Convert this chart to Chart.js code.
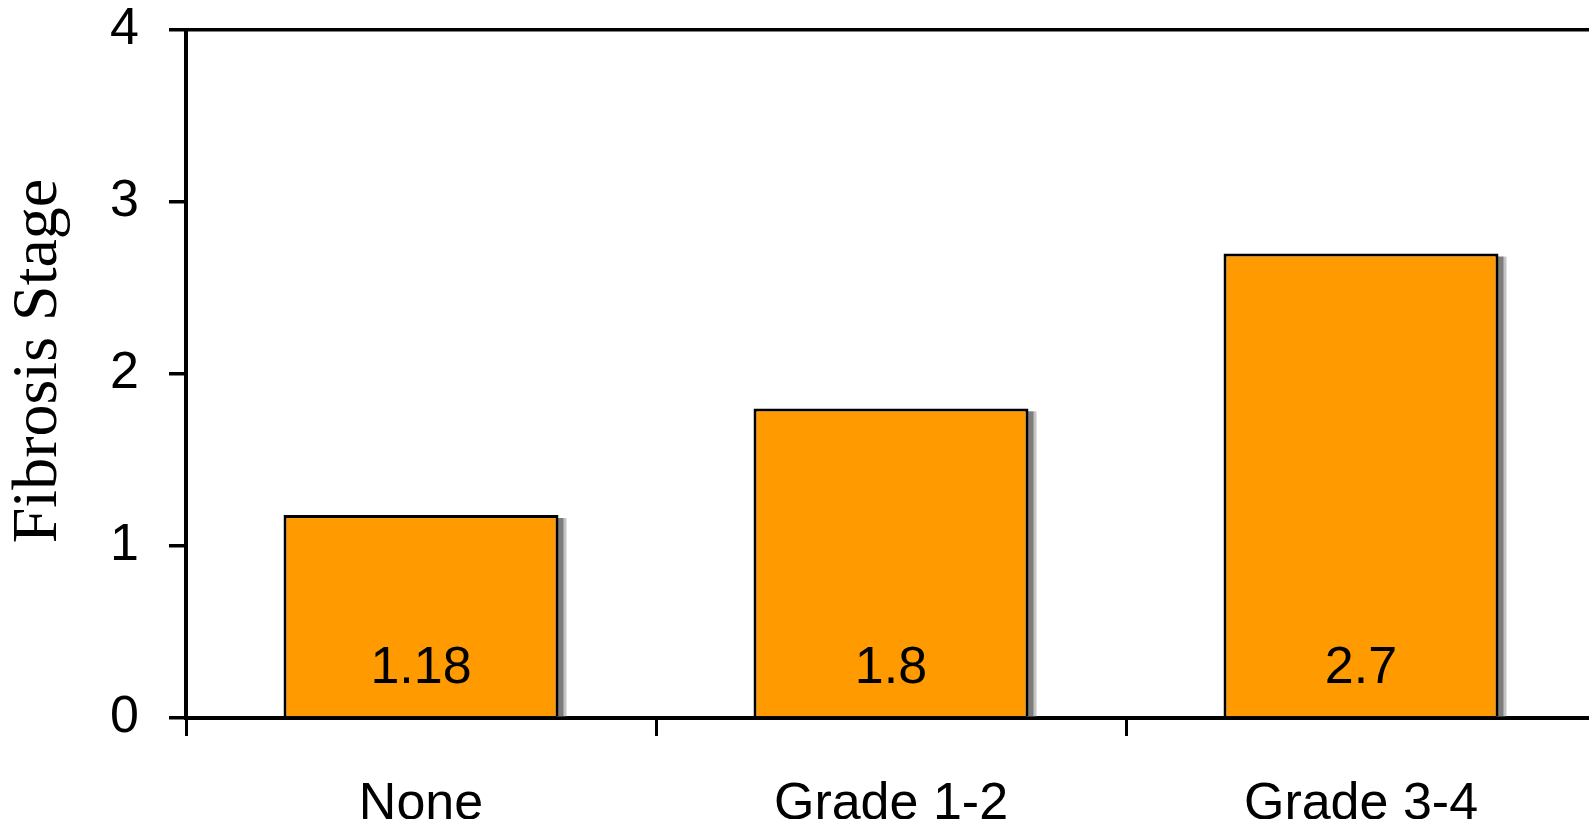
<!DOCTYPE html>
<html>
<head>
<meta charset="utf-8">
<script src="https://cdn.jsdelivr.net/npm/chart.js@4"></script>
<style>
  html, body { margin: 0; padding: 0; background: #fff; overflow: hidden; }
  #wrap { width: 1600px; height: 819px; }
</style>
</head>
<body>
<div id="wrap"><canvas id="myChart"></canvas></div>
<script>
// Fibrosis stage by grade
const grades = ['None', 'Grade 1-2', 'Grade 3-4'];
const fibrosis = [1.18, 1.8, 2.7];
const yTicks = [0, 1, 2, 3, 4];
const yTitle = 'Fibrosis Stage';

const sansFont = "'Liberation Sans', Arial, sans-serif";
const serifFont = "'Liberation Serif', 'Times New Roman', serif";

// grey drop shadow on the right of each bar
const barShadow = {
    id: 'barShadow',
    beforeDatasetsDraw(chart) {
        const c = chart.ctx;
        const meta = chart.getDatasetMeta(0);
        c.save();
        meta.data.forEach((bar) => {
            const right = bar.x + bar.width / 2;
            const h = bar.base - bar.y;
            c.fillStyle = '#c4c4c4';
            c.fillRect(right - 2, bar.y + 3, 10, h - 3);
            c.fillStyle = '#7d7d7d';
            c.fillRect(right - 2, bar.y + 3, 7, h - 3);
        });
        c.restore();
    }
};

// value written near the foot of each bar
const barValues = {
    id: 'barValues',
    afterDatasetsDraw(chart) {
        const c = chart.ctx;
        const meta = chart.getDatasetMeta(0);
        c.save();
        c.font = '52px ' + sansFont;
        c.fillStyle = '#000';
        c.textAlign = 'center';
        c.textBaseline = 'alphabetic';
        meta.data.forEach((bar, i) => {
            const v = chart.data.datasets[0].data[i];
            c.fillText(String(v), bar.x, bar.base - 33);
        });
        c.restore();
    }
};

// rotated y axis title, sitting a little above the middle of the axis
const axisTitle = {
    id: 'axisTitle',
    afterDraw(chart) {
        const c = chart.ctx;
        const area = chart.chartArea;
        c.save();
        c.translate(39, (area.top + area.bottom) / 2 - 13);
        c.rotate(-Math.PI / 2);
        c.font = '64px ' + serifFont;
        c.fillStyle = '#000';
        c.textAlign = 'center';
        c.textBaseline = 'middle';
        c.fillText(yTitle, 0, 0);
        c.restore();
    }
};

const ctx = document.getElementById('myChart');

new Chart(ctx, {
    type: 'bar',
    data: {
        labels: grades,
        datasets: [{
            data: fibrosis,
            backgroundColor: '#ff9a00',
            borderColor: '#000',
            borderWidth: 3,
            barPercentage: 0.585,
            categoryPercentage: 1
        }]
    },
    plugins: [barShadow, barValues, axisTitle],
    options: {
        responsive: true,
        maintainAspectRatio: false,
        animation: false,
        layout: {
            padding: { top: 30, right: 4, left: 0, bottom: 0 }
        },
        plugins: {
            legend: { display: false },
            tooltip: { enabled: false }
        },
        scales: {
            x: {
                offset: true,
                afterFit(scale) {
                    scale.height = 101;
                    scale.paddingLeft = 0;
                    scale.paddingRight = 0;
                },
                grid: {
                    offset: true,
                    color: 'rgba(0,0,0,0)',
                    tickColor: '#000',
                    tickLength: 18,
                    lineWidth: 3
                },
                border: { display: true, color: '#000', width: 4 },
                ticks: {
                    color: '#000',
                    padding: 37,
                    autoSkip: false,
                    maxRotation: 0,
                    minRotation: 0,
                    font: { family: sansFont, size: 52 }
                }
            },
            y: {
                min: yTicks[0],
                max: yTicks[yTicks.length - 1],
                afterFit(scale) {
                    scale.width = 186;
                    scale.paddingTop = 0;
                    scale.paddingBottom = 0;
                },
                afterBuildTicks(scale) {
                    scale.ticks = yTicks.map(v => ({ value: v }));
                },
                grid: {
                    // only the top line is drawn across the plot
                    color: (c) => c.tick && c.tick.value === 4 ? '#000' : 'rgba(0,0,0,0)',
                    tickColor: '#000',
                    tickLength: 17,
                    lineWidth: 3.5
                },
                border: { display: true, color: '#000', width: 4 },
                ticks: {
                    color: '#000',
                    padding: 30,
                    font: { family: sansFont, size: 52 }
                }
            }
        }
    }
});
</script>
</body>
</html>
